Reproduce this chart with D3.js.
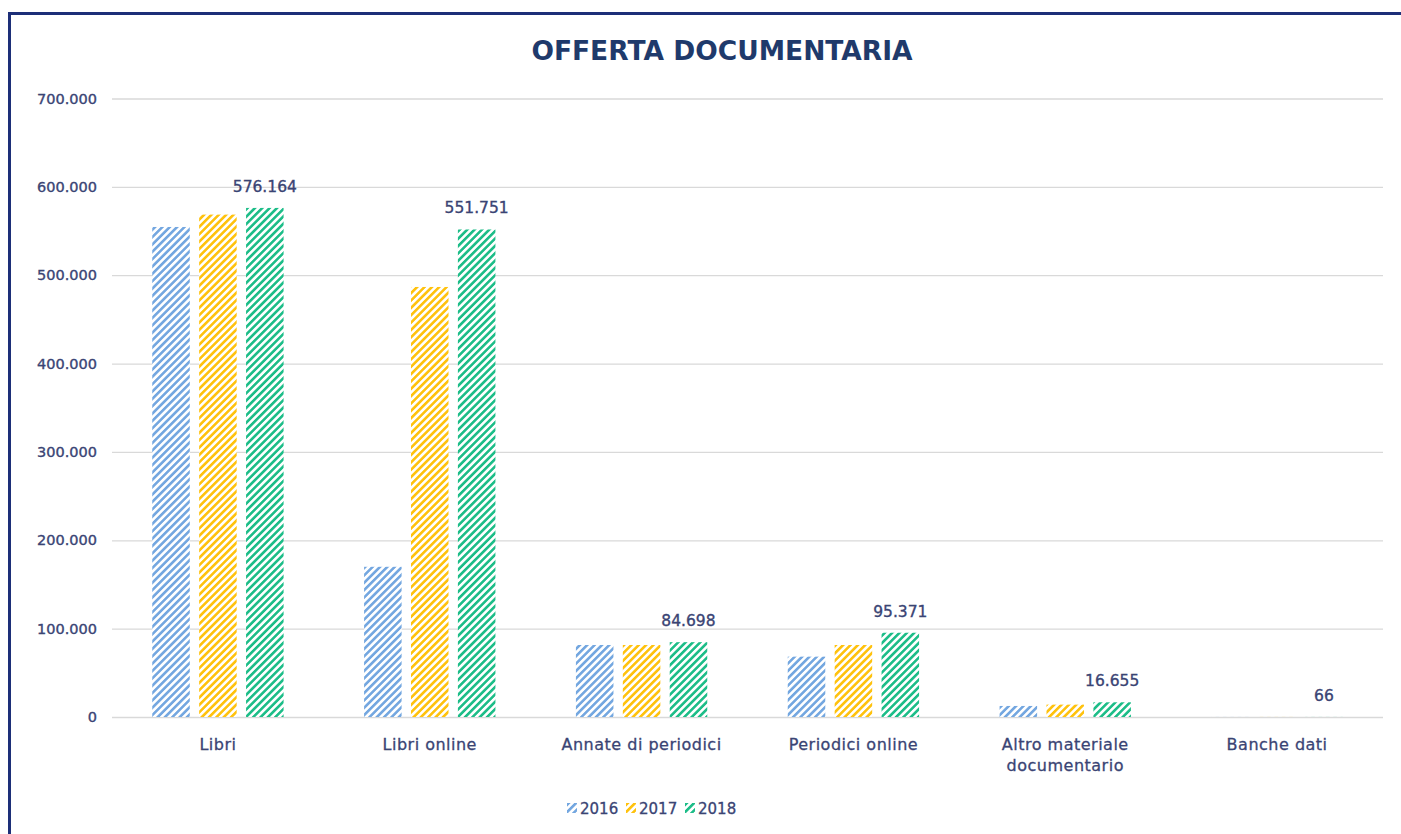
<!DOCTYPE html>
<html><head><meta charset="utf-8">
<script src="https://cdn.jsdelivr.net/npm/d3@7"></script>
<style>body{margin:0;background:#fff;} svg{display:block;}</style>
</head><body>
<svg id="chart" width="1401" height="834"></svg>
<script>
const categories = ["Libri", "Libri online", "Annate di periodici", "Periodici online", "Altro materiale documentario", "Banche dati"];
const categoryLines = [["Libri"], ["Libri online"], ["Annate di periodici"], ["Periodici online"], ["Altro materiale", "documentario"], ["Banche dati"]];
const years = ["2016", "2017", "2018"];
const values2016 = [554600, 170000, 81500, 68300, 12500, 60];
const values2017 = [568600, 486700, 81500, 81500, 14000, 63];
const values2018 = [576164, 551751, 84698, 95371, 16655, 66];
const yTicks = [0, 100000, 200000, 300000, 400000, 500000, 600000, 700000];
const colors = ["#74a7e0", "#ffc20e", "#1dbd88"];

const series = [values2016, values2017, values2018];
const svg = d3.select("#chart");
const textColor = "#3a4474";
const fmt = v => v === 0 ? "0" : d3.format(",")(v).replace(/,/g, ".");
const FONT = "DejaVu Sans, sans-serif";

// border
svg.append("rect").attr("x", 9.5).attr("y", 13.5).attr("width", 1401).attr("height", 900)
  .attr("fill", "#fff").attr("stroke", "#1d2f78").attr("stroke-width", 3);

// patterns
const defs = svg.append("defs");
colors.forEach((c, i) => {
  const p = defs.append("pattern").attr("id", "hatch" + i)
    .attr("patternUnits", "userSpaceOnUse").attr("width", 5.2).attr("height", 5.2)
    .attr("patternTransform", "rotate(45)");
  p.append("rect").attr("width", 5.2).attr("height", 5.2).attr("fill", "#fff");
  p.append("rect").attr("x", 0).attr("y", 0).attr("width", 2.6).attr("height", 5.2).attr("fill", c);
});

const x0 = d3.scaleBand().domain(categories).range([112, 1383]).paddingInner(0.38).paddingOuter(0.19);
const x1 = d3.scaleBand().domain(years).range([0, x0.bandwidth()]).paddingInner(0.2);
const y = d3.scaleLinear().domain([0, 700000]).range([717, 98.5]);

// title
svg.append("text").attr("x", 722).attr("y", 60).attr("text-anchor", "middle")
  .attr("font-family", FONT).attr("font-weight", "bold").attr("font-size", 26.5)
  .attr("fill", "#1f3a6b").text("OFFERTA DOCUMENTARIA");

// grid + y axis
const yAxis = d3.axisLeft(y).tickValues(yTicks).tickSize(-(1383 - 112)).tickPadding(15).tickFormat(fmt);
const gy = svg.append("g").attr("transform", "translate(112,0)").call(yAxis);
gy.select(".domain").remove();
gy.selectAll(".tick line").attr("stroke", "#d9d9d9").attr("stroke-width", 1.3);
gy.selectAll(".tick text").attr("font-family", FONT).attr("font-size", 14.5)
  .attr("fill", textColor).attr("stroke", textColor).attr("stroke-width", 0.35);

// bars
const groups = svg.append("g").selectAll("g").data(categories).join("g")
  .attr("transform", d => `translate(${x0(d)},0)`);
groups.selectAll("rect").data((d, ci) => years.map((yr, si) => ({yr, si, v: series[si][ci]})))
  .join("rect")
  .attr("x", d => x1(d.yr)).attr("width", x1.bandwidth())
  .attr("y", d => y(d.v)).attr("height", d => y(0) - y(d.v))
  .attr("fill", d => `url(#hatch${d.si})`);

// data labels (2018)
groups.append("text")
  .attr("x", x1("2018") + x1.bandwidth() / 2)
  .attr("y", (d, ci) => y(values2018[ci]) - 16)
  .attr("text-anchor", "middle").attr("font-family", FONT).attr("font-size", 15.5)
  .attr("fill", textColor).attr("stroke", textColor).attr("stroke-width", 0.35)
  .text((d, ci) => fmt(values2018[ci]));

// x labels
const xl = svg.append("g").selectAll("text").data(categories).join("text")
  .attr("x", d => x0(d) + x0.bandwidth() / 2).attr("y", 750)
  .attr("text-anchor", "middle").attr("font-family", FONT).attr("font-size", 16)
  .attr("letter-spacing", 0.5)
  .attr("fill", textColor).attr("stroke", textColor).attr("stroke-width", 0.3);
xl.each(function(d, i) {
  d3.select(this).selectAll("tspan").data(categoryLines[i]).join("tspan")
    .attr("x", x0(d) + x0.bandwidth() / 2).attr("dy", (t, j) => j === 0 ? 0 : 21).text(t => t);
});

// legend
const legendX = [567, 626, 685];
const lg = svg.append("g").selectAll("g").data(years).join("g")
  .attr("transform", (d, i) => `translate(${legendX[i]},803)`);
lg.append("rect").attr("width", 10).attr("height", 10).attr("fill", (d, i) => `url(#hatch${i})`);
lg.append("text").attr("x", 13).attr("y", 10.5).attr("font-family", FONT)
  .attr("font-size", 15).attr("fill", textColor).attr("stroke", textColor).attr("stroke-width", 0.3)
  .text(d => d);
</script>
</body></html>
